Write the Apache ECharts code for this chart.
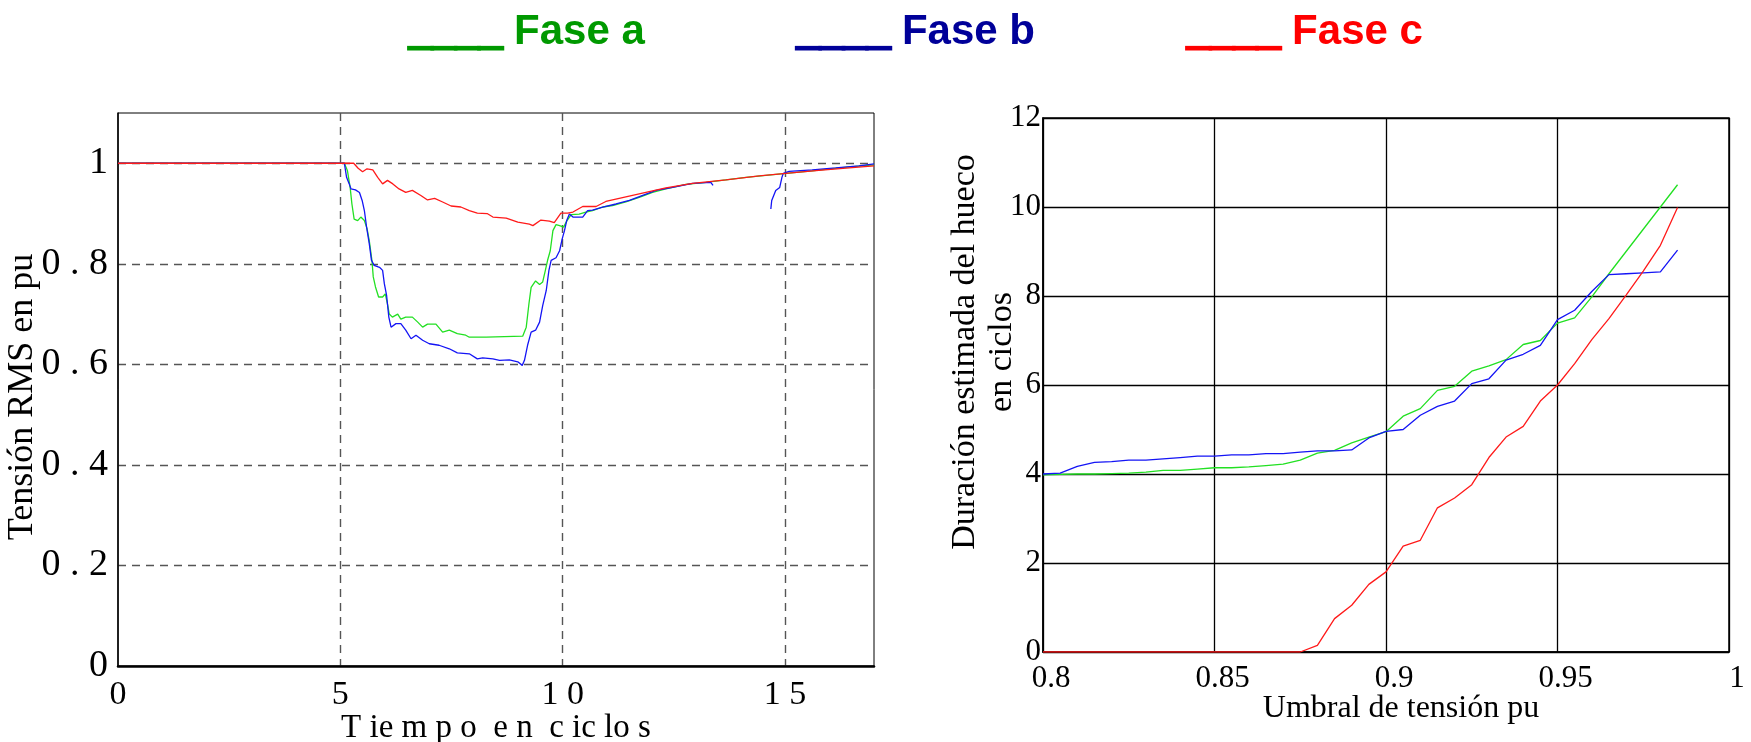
<!DOCTYPE html>
<html>
<head>
<meta charset="utf-8">
<script src="https://cdn.jsdelivr.net/npm/echarts@6/dist/echarts.min.js"></script>
<style>
  html, body { margin: 0; padding: 0; background: #fff; }
  #main { width: 1751px; height: 742px; }
</style>
</head>
<body>
<div id="main"></div>
<script>
'use strict';

// leyenda (arriba)
var leyenda = ['Fase a', 'Fase b', 'Fase c'];

// grafico izquierdo: tension RMS [ciclos, pu]
var rmsFaseA = [
    [0, 1], [5.09, 1], [5.16, 0.985], [5.22, 0.952], [5.26, 0.919], [5.31, 0.889], [5.39, 0.886],
    [5.46, 0.893], [5.54, 0.886], [5.6, 0.87], [5.65, 0.846], [5.71, 0.807], [5.74, 0.774],
    [5.79, 0.754], [5.86, 0.734], [5.95, 0.734], [6.01, 0.74], [6.06, 0.72], [6.1, 0.7],
    [6.17, 0.694], [6.29, 0.7], [6.36, 0.69], [6.47, 0.694], [6.62, 0.694], [6.74, 0.684],
    [6.85, 0.674], [6.96, 0.68], [7.15, 0.68], [7.3, 0.664], [7.45, 0.668], [7.63, 0.661],
    [7.82, 0.658], [7.9, 0.654], [8.28, 0.654], [9.1, 0.656], [9.18, 0.674], [9.24, 0.72],
    [9.29, 0.753], [9.39, 0.766], [9.48, 0.759], [9.55, 0.764], [9.61, 0.787], [9.66, 0.807],
    [9.72, 0.826], [9.78, 0.866], [9.85, 0.878], [9.93, 0.876], [10.02, 0.873], [10.09, 0.885],
    [10.19, 0.898], [10.37, 0.899], [10.52, 0.903], [10.67, 0.906], [10.9, 0.913], [11.12, 0.916],
    [11.42, 0.923], [11.72, 0.932], [12.02, 0.942], [12.32, 0.949], [12.77, 0.958], [13.22, 0.962],
    [13.67, 0.967], [14.12, 0.972], [14.57, 0.976], [15.02, 0.98], [15.61, 0.985], [16.21, 0.991],
    [17, 0.997]
];
var rmsFaseB = [
    [0, 1], [5.09, 1], [5.14, 0.972], [5.2, 0.959], [5.24, 0.949], [5.34, 0.947], [5.43, 0.942],
    [5.49, 0.926], [5.54, 0.906], [5.59, 0.873], [5.65, 0.84], [5.7, 0.807], [5.76, 0.797],
    [5.88, 0.793], [5.95, 0.787], [5.99, 0.76], [6.04, 0.737], [6.09, 0.694], [6.14, 0.674],
    [6.25, 0.681], [6.36, 0.681], [6.47, 0.668], [6.59, 0.651], [6.7, 0.658], [6.85, 0.648],
    [7.0, 0.641], [7.22, 0.638], [7.45, 0.631], [7.63, 0.623], [7.9, 0.621], [8.08, 0.611],
    [8.2, 0.613], [8.43, 0.611], [8.58, 0.608], [8.8, 0.609], [8.99, 0.605], [9.09, 0.598],
    [9.14, 0.608], [9.21, 0.638], [9.29, 0.664], [9.39, 0.668], [9.48, 0.684], [9.55, 0.717],
    [9.63, 0.747], [9.69, 0.787], [9.74, 0.807], [9.85, 0.812], [9.93, 0.826], [9.99, 0.85],
    [10.04, 0.866], [10.09, 0.886], [10.15, 0.899], [10.23, 0.893], [10.45, 0.893], [10.56, 0.906],
    [10.67, 0.907], [10.9, 0.913], [11.2, 0.919], [11.5, 0.926], [11.8, 0.936], [12.1, 0.946],
    [12.47, 0.952], [12.92, 0.96], [13.33, 0.962], [13.38, 0.956],
    [14, null],
    [14.68, 0.909], [14.7, 0.926], [14.79, 0.946], [14.88, 0.952], [14.93, 0.972], [14.96, 0.98],
    [15.09, 0.984], [15.61, 0.987], [16.14, 0.991], [16.66, 0.995], [17, 0.999]
];
var rmsFaseC = [
    [0, 1], [5.3, 1], [5.4, 0.99], [5.5, 0.983], [5.6, 0.989], [5.73, 0.987], [5.84, 0.972],
    [5.95, 0.959], [6.06, 0.966], [6.18, 0.959], [6.32, 0.949], [6.47, 0.942], [6.62, 0.946],
    [6.81, 0.936], [6.96, 0.927], [7.12, 0.93], [7.3, 0.923], [7.49, 0.915], [7.71, 0.913],
    [7.9, 0.906], [8.08, 0.901], [8.3, 0.9], [8.43, 0.893], [8.73, 0.891], [8.99, 0.883],
    [9.25, 0.879], [9.33, 0.876], [9.51, 0.887], [9.7, 0.885], [9.81, 0.882], [9.96, 0.901],
    [10.11, 0.901], [10.23, 0.903], [10.45, 0.914], [10.75, 0.914], [10.97, 0.924], [11.42, 0.933],
    [11.87, 0.942], [12.32, 0.951], [12.92, 0.96], [13.67, 0.967], [14.42, 0.975], [15.02, 0.98],
    [15.76, 0.986], [16.44, 0.991], [17, 0.995]
];

// grafico derecho: duracion estimada vs umbral
var umbral = [
    0.8, 0.805, 0.81, 0.815, 0.82, 0.825, 0.83, 0.835, 0.84, 0.845,
    0.85, 0.855, 0.86, 0.865, 0.87, 0.875, 0.88, 0.885, 0.89, 0.895,
    0.9, 0.905, 0.91, 0.915, 0.92, 0.925, 0.93, 0.935, 0.94, 0.945,
    0.95, 0.955, 0.96, 0.965, 0.97, 0.975, 0.98, 0.985
];
var durFaseA = [
    3.98, 3.99, 4.0, 4.0, 4.01, 4.02, 4.04, 4.08, 4.08, 4.11,
    4.14, 4.14, 4.16, 4.19, 4.22, 4.31, 4.47, 4.53, 4.7, 4.83,
    4.95, 5.3, 5.47, 5.88, 5.97, 6.31, 6.43, 6.57, 6.91, 7.0,
    7.39, 7.51, 7.98, 8.5, 9.0, 9.5, 10.0, 10.5
];
var durFaseB = [
    4.0, 4.02, 4.17, 4.26, 4.28, 4.31, 4.31, 4.34, 4.37, 4.4,
    4.4, 4.43, 4.43, 4.46, 4.46, 4.49, 4.52, 4.52, 4.54, 4.81,
    4.96, 5.0, 5.32, 5.52, 5.64, 6.03, 6.14, 6.56, 6.69, 6.89,
    7.47, 7.68, 8.1, 8.48, 8.5, 8.52, 8.54, 9.03
];
var durFaseC = [
    0, 0, 0, 0, 0, 0, 0, 0, 0, 0,
    0, 0, 0, 0, 0, 0, 0.15, 0.75, 1.05, 1.52,
    1.8, 2.38, 2.51, 3.24, 3.46, 3.76, 4.37, 4.83, 5.07, 5.64,
    6.0, 6.48, 7.02, 7.49, 8.02, 8.56, 9.14, 9.99
];

var colLeyenda = ['#009900', '#000099', '#ff0000'];
var colLinea = ['#22e022', '#1414f5', '#ff1a1a'];

var serif = 'Liberation Serif';
var sans = 'Liberation Sans';

function espaciado(v) {
    // "0 . 8", "1 5" como en el original
    var s = String(Math.round(v * 10) / 10);
    return s.split('').join(' ');
}

var dom = document.getElementById('main');
var myChart = echarts.init(dom, null, {renderer: 'canvas'});

var dashed = {color: '#555', width: 1.4, type: [8, 6]};

var option = {
    animation: false,
    backgroundColor: '#fff',
    legend: {
        top: 5,
        left: 399,
        itemGap: 147,
        itemWidth: 0,
        itemHeight: 0,
        icon: 'rect',
        selectedMode: false,
        formatter: function (name) {
            return '{u|____} ' + name;
        },
        textStyle: {fontFamily: sans, fontWeight: 'bold', fontSize: 42},
        data: leyenda.map(function (n, i) {
            return {
                name: n,
                itemStyle: {color: 'transparent'},
                textStyle: {
                    color: colLeyenda[i],
                    rich: {
                        u: {
                            fontFamily: sans, fontWeight: 'bold', fontSize: 42,
                            color: colLeyenda[i], textBorderColor: colLeyenda[i], textBorderWidth: 3
                        }
                    }
                }
            };
        })
    },
    grid: [
        {left: 118, top: 113, width: 756, height: 553, show: true, borderColor: '#000', borderWidth: 1,
            outerBoundsMode: 'none', containLabel: false},
        {left: 1043, top: 118, width: 686, height: 534, show: true, borderColor: '#000', borderWidth: 1.5,
            outerBoundsMode: 'none', containLabel: false}
    ],
    xAxis: [
        {
            gridIndex: 0, type: 'value', min: 0, max: 17, interval: 5,
            name: 'T ie m p o  e n  c ic lo s', nameLocation: 'middle', nameGap: 46, nameMoveOverlap: false,
            nameTextStyle: {fontFamily: serif, fontSize: 33, color: '#000'},
            axisLine: {show: true, onZero: false, lineStyle: {color: '#000', width: 2.5}},
            axisTick: {show: false},
            axisLabel: {
                fontFamily: serif, fontSize: 34, color: '#000', margin: 12,
                showMaxLabel: false, formatter: espaciado
            },
            splitLine: {show: true, showMinLine: false, showMaxLine: false, lineStyle: dashed}
        },
        {
            gridIndex: 1, type: 'value', min: 0.8, max: 1, interval: 0.05,
            name: 'Umbral de tensión pu', nameLocation: 'middle', nameGap: 41, nameMoveOverlap: false,
            nameTextStyle: {fontFamily: serif, fontSize: 32, color: '#000', padding: [0, 0, 0, 30]},
            axisLine: {show: true, onZero: false, lineStyle: {color: '#000', width: 1.5}},
            axisTick: {show: false},
            axisLabel: {fontFamily: serif, fontSize: 31, color: '#000', margin: 11, padding: [0, 0, 0, 16]},
            splitLine: {show: true, lineStyle: {color: '#000', width: 1.3}}
        }
    ],
    yAxis: [
        {
            gridIndex: 0, type: 'value', min: 0, max: 1.1, interval: 0.2,
            name: 'Tensión RMS en pu', nameLocation: 'middle', nameGap: 77, nameMoveOverlap: false,
            nameTextStyle: {fontFamily: serif, fontSize: 36, color: '#000', padding: [0, 15, 0, 0]},
            axisLine: {show: true, onZero: false, lineStyle: {color: '#000', width: 1.5}},
            axisTick: {show: false},
            axisLabel: {
                fontFamily: serif, fontSize: 38, color: '#000', margin: 10,
                showMaxLabel: false, formatter: espaciado
            },
            splitLine: {show: true, showMinLine: false, showMaxLine: false, lineStyle: dashed}
        },
        {
            gridIndex: 1, type: 'value', min: 0, max: 12, interval: 2,
            name: 'Duración estimada del hueco\nen ciclos', nameLocation: 'middle', nameGap: 22, nameMoveOverlap: false,
            nameTextStyle: {fontFamily: serif, fontSize: 34, lineHeight: 37, color: '#000', padding: [0, 0, 0, 66]},
            axisLine: {show: true, onZero: false, lineStyle: {color: '#000', width: 1.5}},
            axisTick: {show: false},
            axisLabel: {fontFamily: serif, fontSize: 31, color: '#000', margin: 2},
            splitLine: {show: true, lineStyle: {color: '#000', width: 1.3}}
        }
    ],
    series: [
        {name: 'Fase a', type: 'line', xAxisIndex: 0, yAxisIndex: 0, data: rmsFaseA},
        {name: 'Fase b', type: 'line', xAxisIndex: 0, yAxisIndex: 0, data: rmsFaseB},
        {name: 'Fase c', type: 'line', xAxisIndex: 0, yAxisIndex: 0, data: rmsFaseC},
        {name: 'Fase a', type: 'line', xAxisIndex: 1, yAxisIndex: 1,
            data: umbral.map(function (u, i) { return [u, durFaseA[i]]; })},
        {name: 'Fase b', type: 'line', xAxisIndex: 1, yAxisIndex: 1,
            data: umbral.map(function (u, i) { return [u, durFaseB[i]]; })},
        {name: 'Fase c', type: 'line', xAxisIndex: 1, yAxisIndex: 1,
            data: umbral.map(function (u, i) { return [u, durFaseC[i]]; })}
    ].map(function (s, k) {
        var c = colLinea[k % 3];
        s.showSymbol = false;
        s.symbol = 'none';
        s.connectNulls = false;
        s.color = c;
        s.lineStyle = {color: c, width: 1.3};
        s.z = 3 + (k % 3);
        return s;
    })
};

myChart.setOption(option);
</script>
</body>
</html>
